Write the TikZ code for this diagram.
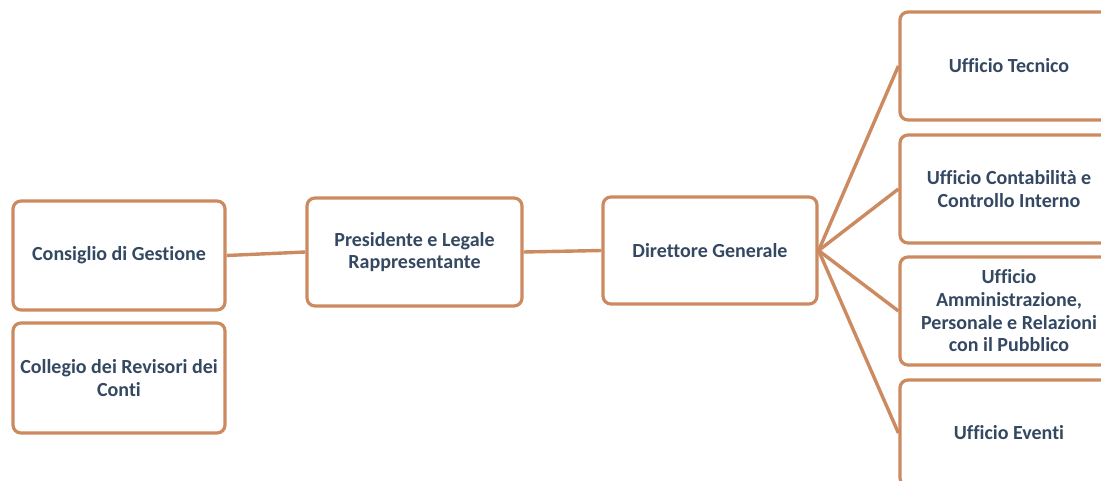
\documentclass[tikz,border=0pt]{standalone}
\usepackage{fontspec}
\setmainfont[Ligatures=NoCommon]{Carlito}
\definecolor{boxline}{RGB}{204,138,96}
\definecolor{txt}{RGB}{52,72,98}
\begin{document}
\begin{tikzpicture}[x=1pt,y=-1pt,
  orgbox/.style={draw=boxline, line width=3.2pt, rounded corners=8pt, fill=white,
    text=txt, font=\bfseries\fontsize{20}{22.7}\selectfont, align=center,
    inner sep=2pt, anchor=center},
  link/.style={draw=boxline, line width=3.4pt}]
\clip (0,0) rectangle (1101,481);
\fill[white] (0,0) rectangle (1101,481);
\node[orgbox, minimum width=212pt, minimum height=109pt] (cons) at (119,255.5) {Consiglio di Gestione};
\node[orgbox, minimum width=212pt, minimum height=110pt] (coll) at (119,378) {Collegio dei Revisori dei\\Conti};
\node[orgbox, minimum width=215pt, minimum height=108pt] (pres) at (414.5,252) {Presidente e Legale\\Rappresentante};
\node[orgbox, minimum width=214pt, minimum height=107pt] (dir) at (710,250.5) {Direttore Generale};
\node[orgbox, minimum width=218pt, minimum height=108pt] (tec) at (1009,66) {Ufficio Tecnico};
\node[orgbox, minimum width=218pt, minimum height=108pt] (cont) at (1009,189) {Ufficio Contabilità e\\Controllo Interno};
\node[orgbox, minimum width=218pt, minimum height=108pt] (amm) at (1009,311) {Ufficio\\Amministrazione,\\Personale e Relazioni\\con il Pubblico};
\node[orgbox, minimum width=218pt, minimum height=106pt] (eve) at (1009,433) {Ufficio Eventi};
\draw[link] (cons.east) -- (pres.west);
\draw[link] (pres.east) -- (dir.west);
\draw[link] (dir.east) -- (tec.west);
\draw[link] (dir.east) -- (cont.west);
\draw[link] (dir.east) -- (amm.west);
\draw[link] (dir.east) -- (eve.west);
\end{tikzpicture}
\end{document}
